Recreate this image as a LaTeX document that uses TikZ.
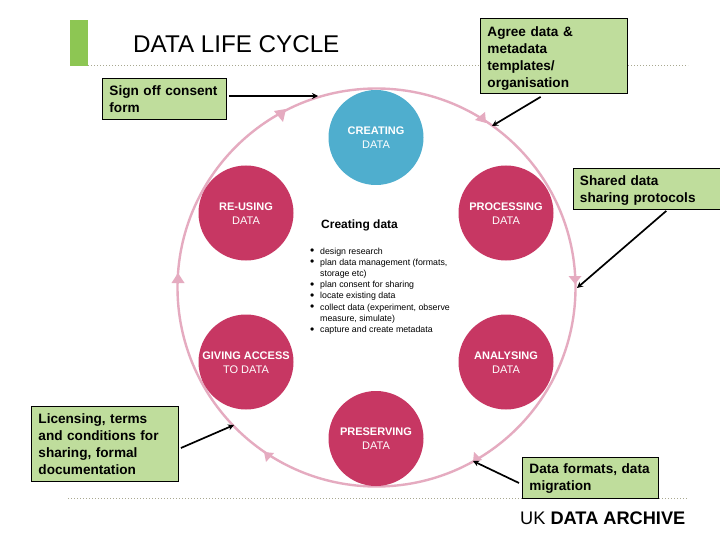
\documentclass[tikz,border=0pt]{standalone}
\usepackage{fontspec}
\setmainfont{Liberation Sans}
\usetikzlibrary{arrows.meta,calc}
\definecolor{boxgreen}{HTML}{BFDD9C}
\definecolor{bargreen}{HTML}{8DC653}
\definecolor{stagered}{HTML}{C73763}
\definecolor{stageblue}{HTML}{4FAECE}
\definecolor{ringpink}{HTML}{E5ABC0}
\definecolor{dotgrey}{HTML}{A8A890}
\newcommand{\lbl}{\fontsize{13.6}{17}\selectfont\bfseries}
\newcommand{\blt}{\makebox[10pt][l]{\raisebox{-0.6pt}{\fontsize{12}{11}\selectfont•}}}
\tikzset{
  x=1pt,y=-1pt,
  note/.style={draw=black,line width=0.9pt,fill=boxgreen,anchor=north west,inner xsep=7pt,inner ysep=2pt,
    align=left,font=\lbl,text=black},
  stage/.style={circle,fill=stagered,minimum size=95pt,inner sep=0pt,text=white,align=center,
    font=\fontsize{11}{14}\selectfont},
  stagetext/.style={text=white,font=\fontsize{11}{14}\selectfont,align=center},
  lead/.style={line width=1.7pt,-{Stealth[length=6pt,width=6pt]}},
  rule/.style={dotgrey,line width=0.6pt,dash pattern=on 1pt off 2pt},
  ringhead/.style={fill=ringpink,draw=none}
}
\begin{document}
\begin{tikzpicture}
\useasboundingbox (0,0) rectangle (720,540);
\fill[white] (0,0) rectangle (720,540);
\fill[bargreen] (70,20) rectangle (88,66);
\draw[rule] (88,65.5) -- (688,65.5);
\draw[rule] (68,498) -- (688,498);
\draw[ringpink,line width=2.4pt] (376.5,287.5) circle[radius=199];
\fill[ringhead] (178,273) -- (171.5,283) -- (184.5,283) -- cycle;
\fill[ringhead] (575,284) -- (568.5,276) -- (581.5,276) -- cycle;
\fill[ringhead] (286,109) -- (274,111) -- (283,122) -- cycle;
\fill[ringhead] (486,123) -- (475,120) -- (485,112) -- cycle;
\fill[ringhead] (264,452) -- (274,453) -- (266,462) -- cycle;
\fill[ringhead] (473,462) -- (474,452) -- (482,460) -- cycle;
\node[stage,fill=stageblue] (creating) at (376,137.5) {};
\node[stage] (reusing) at (246,213) {};
\node[stage] (processing) at (506,213) {};
\node[stage] (giving) at (246,362) {};
\node[stage] (analysing) at (506,362) {};
\node[stage] (preserving) at (376,438.5) {};
\node[stagetext] (creatingT) at (376,138) {\textbf{CREATING}\\DATA};
\node[stagetext] (reusingT) at (246,214) {\textbf{RE-USING}\\DATA};
\node[stagetext] (processingT) at (506,214) {\textbf{PROCESSING}\\DATA};
\node[stagetext] (givingT) at (246,363) {\textbf{GIVING ACCESS}\\TO DATA};
\node[stagetext] (analysingT) at (506,363) {\textbf{ANALYSING}\\DATA};
\node[stagetext] (preservingT) at (376,439) {\textbf{PRESERVING}\\DATA};
\node[anchor=west,inner sep=0pt,font=\fontsize{12}{14}\selectfont\bfseries] (head) at (321,225) {Creating data};
\node[anchor=north west,inner sep=0pt,align=left,font=\fontsize{8.8}{11.2}\selectfont] (list) at (310,247.5) {%
\blt design research\\
\blt plan data management (formats,\\
\hspace*{10pt}storage etc)\\
\blt plan consent for sharing\\
\blt locate existing data\\
\blt collect data (experiment, observe\\
\hspace*{10pt}measure, simulate)\\
\blt capture and create metadata};
\node[anchor=west,inner sep=0pt,font=\fontsize{24.2}{28}\selectfont] (title) at (133,44.5) {DATA LIFE CYCLE};
\node[anchor=west,inner sep=0pt,font=\fontsize{18.2}{22}\selectfont] (archive) at (520,518) {UK \textbf{DATA ARCHIVE}};
\node[note,text width=110pt,minimum height=41pt] (sign) at (102,78) {Sign off consent\\form};
\node[note,text width=133pt,minimum height=75pt] (agree) at (480,18) {\rule{0pt}{14pt}Agree data \&\\metadata\\templates/\\organisation};
\node[note,text width=134pt,minimum height=41pt] (shared) at (572.5,168) {\rule{0pt}{12pt}Shared data\\sharing protocols};
\node[note,text width=133pt,minimum height=75pt] (licence) at (31,406) {Licensing, terms\\and conditions for\\sharing, formal\\documentation};
\node[note,text width=122pt,minimum height=41pt] (formats) at (522,456.5) {\rule{0pt}{12pt}Data formats, data\\migration};
\coordinate (signEnd) at (318,96);
\coordinate (agreeEnd) at (492,126);
\coordinate (sharedEnd) at (577,288);
\coordinate (licenceEnd) at (234,425);
\coordinate (formatsEnd) at (473,461);
\draw[lead] ($(sign.east |- signEnd)+(2,0)$) -- (signEnd);
\draw[lead] ($(agree.south west)!0.41!(agree.south east)+(0,3)$) -- (agreeEnd);
\draw[lead] ($(shared.south west)!0.63!(shared.south east)+(0,1)$) -- (sharedEnd);
\draw[lead] ($(licence.east |- 0,448)+(2,0)$) -- (licenceEnd);
\draw[lead] ($(formats.west |- 0,483)+(-3,0)$) -- (formatsEnd);
\end{tikzpicture}
\end{document}
